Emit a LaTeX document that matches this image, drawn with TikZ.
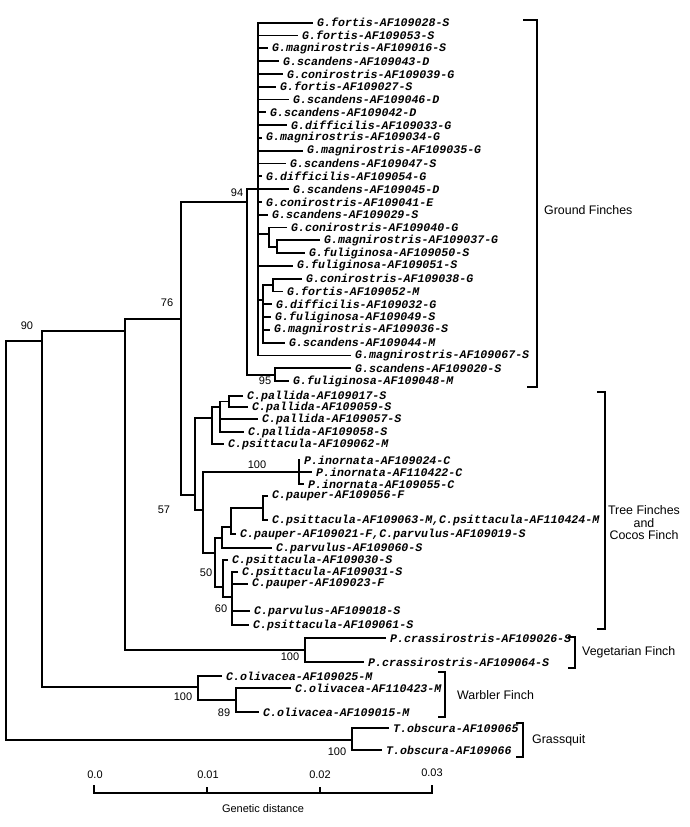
\documentclass[tikz,border=0pt]{standalone}
\usepackage{fontspec}
\newfontfamily\taxfont{Liberation Mono}
\newfontfamily\labfont{Liberation Sans}
\begin{document}
\begin{tikzpicture}[x=1pt,y=-1pt,
  taxon/.style={anchor=west,inner xsep=4pt,inner ysep=0pt,
    font=\taxfont\bfseries\itshape\fontsize{11.6}{12}\selectfont},
  boot/.style={inner sep=0pt,font=\labfont\fontsize{11}{12}\selectfont},
  clade/.style={anchor=west,inner sep=0pt,font=\labfont\fontsize{12.4}{12.5}\selectfont},
  branch/.style={line width=1.8pt},
  bracket/.style={line width=1.8pt}]
  \useasboundingbox (0,0) rectangle (690,827);
  % ground finches
  \node[taxon] (g01) at (313,22.7)  {G.fortis-AF109028-S};
  \node[taxon] (g02) at (298,35.5)  {G.fortis-AF109053-S};
  \node[taxon] (g03) at (268,48.3)  {G.magnirostris-AF109016-S};
  \node[taxon] (g04) at (279,61.1)  {G.scandens-AF109043-D};
  \node[taxon] (g05) at (283,73.9)  {G.conirostris-AF109039-G};
  \node[taxon] (g06) at (276,86.7)  {G.fortis-AF109027-S};
  \node[taxon] (g07) at (289,99.5)  {G.scandens-AF109046-D};
  \node[taxon] (g08) at (266,112.3) {G.scandens-AF109042-D};
  \node[taxon] (g09) at (287,125.1) {G.difficilis-AF109033-G};
  \node[taxon] (g10) at (262,137.9) {G.magnirostris-AF109034-G};
  \node[taxon] (g11) at (303,150.7) {G.magnirostris-AF109035-G};
  \node[taxon] (g12) at (286,163.5) {G.scandens-AF109047-S};
  \node[taxon] (g13) at (262,176.3) {G.difficilis-AF109054-G};
  \node[taxon] (g14) at (289,189.1) {G.scandens-AF109045-D};
  \node[taxon] (g15) at (262,201.9) {G.conirostris-AF109041-E};
  \node[taxon] (g16) at (268,214.7) {G.scandens-AF109029-S};
  \node[taxon] (g17) at (287,227.5) {G.conirostris-AF109040-G};
  \node[taxon] (g18) at (320,240.3) {G.magnirostris-AF109037-G};
  \node[taxon] (g19) at (305,253.1) {G.fuliginosa-AF109050-S};
  \node[taxon] (g20) at (293,265.9) {G.fuliginosa-AF109051-S};
  \node[taxon] (g21) at (302,278.7) {G.conirostris-AF109038-G};
  \node[taxon] (g22) at (283,291.5) {G.fortis-AF109052-M};
  \node[taxon] (g23) at (272,304.3) {G.difficilis-AF109032-G};
  \node[taxon] (g24) at (271,317.1) {G.fuliginosa-AF109049-S};
  \node[taxon] (g25) at (270,329.9) {G.magnirostris-AF109036-S};
  \node[taxon] (g26) at (285,342.7) {G.scandens-AF109044-M};
  \node[taxon] (g27) at (351,355.5) {G.magnirostris-AF109067-S};
  \node[taxon] (g28) at (351,368.3) {G.scandens-AF109020-S};
  \node[taxon] (g29) at (289,381.1) {G.fuliginosa-AF109048-M};
  % tree finches and cocos finch
  \node[taxon] (t01) at (243,396)   {C.pallida-AF109017-S};
  \node[taxon] (t02) at (248,407)   {C.pallida-AF109059-S};
  \node[taxon] (t03) at (258,419)   {C.pallida-AF109057-S};
  \node[taxon] (t04) at (244,432)   {C.pallida-AF109058-S};
  \node[taxon] (t05) at (224,444)   {C.psittacula-AF109062-M};
  \node[taxon] (t06) at (300,460)   {P.inornata-AF109024-C};
  \node[taxon] (t07) at (312,472)   {P.inornata-AF110422-C};
  \node[taxon] (t08) at (304,484)   {P.inornata-AF109055-C};
  \node[taxon] (t09) at (268,496)   {C.pauper-AF109056-F};
  \node[taxon] (t10) at (268,520)   {C.psittacula-AF109063-M,C.psittacula-AF110424-M};
  \node[taxon] (t11) at (236,534)   {C.pauper-AF109021-F,C.parvulus-AF109019-S};
  \node[taxon] (t12) at (272,548)   {C.parvulus-AF109060-S};
  \node[taxon] (t13) at (228,560)   {C.psittacula-AF109030-S};
  \node[taxon] (t14) at (238,572)   {C.psittacula-AF109031-S};
  \node[taxon] (t15) at (248,584)   {C.pauper-AF109023-F};
  \node[taxon] (t16) at (250,611)   {C.parvulus-AF109018-S};
  \node[taxon] (t17) at (249,625)   {C.psittacula-AF109061-S};
  % vegetarian, warbler, grassquit
  \node[taxon] (v1) at (386,638)    {P.crassirostris-AF109026-S};
  \node[taxon] (v2) at (364,662)    {P.crassirostris-AF109064-S};
  \node[taxon] (w1) at (222,676)    {C.olivacea-AF109025-M};
  \node[taxon] (w2) at (291,688)    {C.olivacea-AF110423-M};
  \node[taxon] (w3) at (259,712)    {C.olivacea-AF109015-M};
  \node[taxon] (s1) at (389,728)    {T.obscura-AF109065};
  \node[taxon] (s2) at (382,750)    {T.obscura-AF109066};

  % internal nodes
  \coordinate (gpoly) at (258,189.1);
  \coordinate (n269)  at (269,234);
  \coordinate (n277)  at (277,246.7);
  \coordinate (n263)  at (263,300);
  \coordinate (n273)  at (273,285);
  \coordinate (n95)   at (275,374.7);
  \coordinate (n94)   at (247,202);
  \coordinate (n181)  at (181,319);
  \coordinate (n57)   at (195,495);
  \coordinate (n212)  at (212,418);
  \coordinate (n220)  at (220,407);
  \coordinate (n229)  at (229,401.5);
  \coordinate (n203)  at (203,510);
  \coordinate (ninor) at (299,472);
  \coordinate (n215)  at (215,553);
  \coordinate (n222)  at (222,538);
  \coordinate (n231)  at (231,527);
  \coordinate (npair) at (263,508);
  \coordinate (n50)   at (223,587);
  \coordinate (n60)   at (232,597);
  \coordinate (nveg)  at (305,650);
  \coordinate (n76)   at (125,331);
  \coordinate (nwarb) at (198,687);
  \coordinate (n89)   at (236,700);
  \coordinate (n90)   at (42,341);
  \coordinate (ngrass) at (352,740);
  \coordinate (root)  at (6,540);

  \begin{scope}[branch]
    \draw (g01.west) -| (gpoly) |- (g27.west);
    \foreach \c in {g02,g03,g04,g05,g06,g07,g08,g09,g10,g11,g12,g13,g14,g15,g16,g20}
      \draw (gpoly |- \c.west) -- (\c.west);
    \draw (gpoly |- n269) -- (n269);
    \draw (gpoly |- n263) -- (n263);
    \draw (g17.west) -| (n269) |- (n277);
    \draw (g18.west) -| (n277) |- (g19.west);
    \draw (n273) -| (n263) |- (g26.west);
    \draw (n263 |- g23.west) -- (g23.west);
    \draw (n263 |- g24.west) -- (g24.west);
    \draw (n263 |- g25.west) -- (g25.west);
    \draw (g21.west) -| (n273) |- (g22.west);
    \draw (g28.west) -| (n95) |- (g29.west);
    \draw (gpoly) -| (n94) |- (n95);
    \draw (n94) -| (n181) |- (n57);
    \draw (n212) -| (n57) |- (n203);
    \draw (n220) -| (n212) |- (t05.west);
    \draw (n229) -| (n220) |- (t04.west);
    \draw (n220 |- t03.west) -- (t03.west);
    \draw (t01.west) -| (n229) |- (t02.west);
    \draw (ninor) -| (n203) |- (n215);
    \draw (t06.west) -| (ninor) |- (t08.west);
    \draw (ninor) -- (t07.west);
    \draw (n222) -| (n215) |- (n50);
    \draw (n231) -| (n222) |- (t12.west);
    \draw (npair) -| (n231) |- (t11.west);
    \draw (t09.west) -| (npair) |- (t10.west);
    \draw (t13.west) -| (n50) |- (n60);
    \draw (t14.west) -| (n60) |- (t17.west);
    \draw (n60 |- t15.west) -- (t15.west);
    \draw (n60 |- t16.west) -- (t16.west);
    \draw (n181) -| (n76) |- (nveg);
    \draw (v1.west) -| (nveg) |- (v2.west);
    \draw (n76) -| (n90) |- (nwarb);
    \draw (w1.west) -| (nwarb) |- (n89);
    \draw (w2.west) -| (n89) |- (w3.west);
    \draw (n90) -| (root) |- (ngrass);
    \draw (s1.west) -| (ngrass) |- (s2.west);
  \end{scope}

  % bootstrap values
  \node[boot] (b94)  at (237,193) {94};
  \node[boot] (b76)  at (167,303) {76};
  \node[boot] (b90)  at (27,326)  {90};
  \node[boot] (b95)  at (265,381) {95};
  \node[boot] (b100a) at (257,465) {100};
  \node[boot] (b57)  at (164,510) {57};
  \node[boot] (b50)  at (206,573) {50};
  \node[boot] (b60)  at (221,609) {60};
  \node[boot] (b100b) at (290,657) {100};
  \node[boot] (b100c) at (183,697) {100};
  \node[boot] (b89)  at (224,713) {89};
  \node[boot] (b100d) at (337,752) {100};

  % clade brackets
  \draw[bracket] (523,20) -- (537,20) -- (537,387) -- (527,387);
  \draw[bracket] (597,392) -- (605,392) -- (605,629) -- (597,629);
  \draw[bracket] (568,637) -- (575,637) -- (575,668) -- (568,668);
  \draw[bracket] (438,672) -- (445,672) -- (445,717) -- (438,717);
  \draw[bracket] (516,723) -- (523,723) -- (523,757) -- (516,757);
  \node[clade] (ground) at (544,210) {Ground Finches};
  \node[clade,anchor=center,align=center] (tree) at (644,523)
       {Tree Finches\\and\\Cocos Finch};
  \node[clade] (veget) at (582,652) {Vegetarian Finch};
  \node[clade] (warbl) at (457,695) {Warbler Finch};
  \node[clade] (grass) at (532,740) {Grassquit};

  % scale bar
  \draw[line width=1.4pt] (94,785) -- (94,793) -- (432,793) -- (432,785);
  \draw[line width=1.4pt] (207,787) -- (207,793);
  \draw[line width=1.4pt] (320,787) -- (320,793);
  \node[boot] (s0) at (95,775)  {0.0};
  \node[boot] (s1l) at (208,775) {0.01};
  \node[boot] (s2l) at (320,775) {0.02};
  \node[boot] (s3l) at (432,773) {0.03};
  \node[boot] (gd) at (263,809) {Genetic distance};
\end{tikzpicture}
\end{document}
